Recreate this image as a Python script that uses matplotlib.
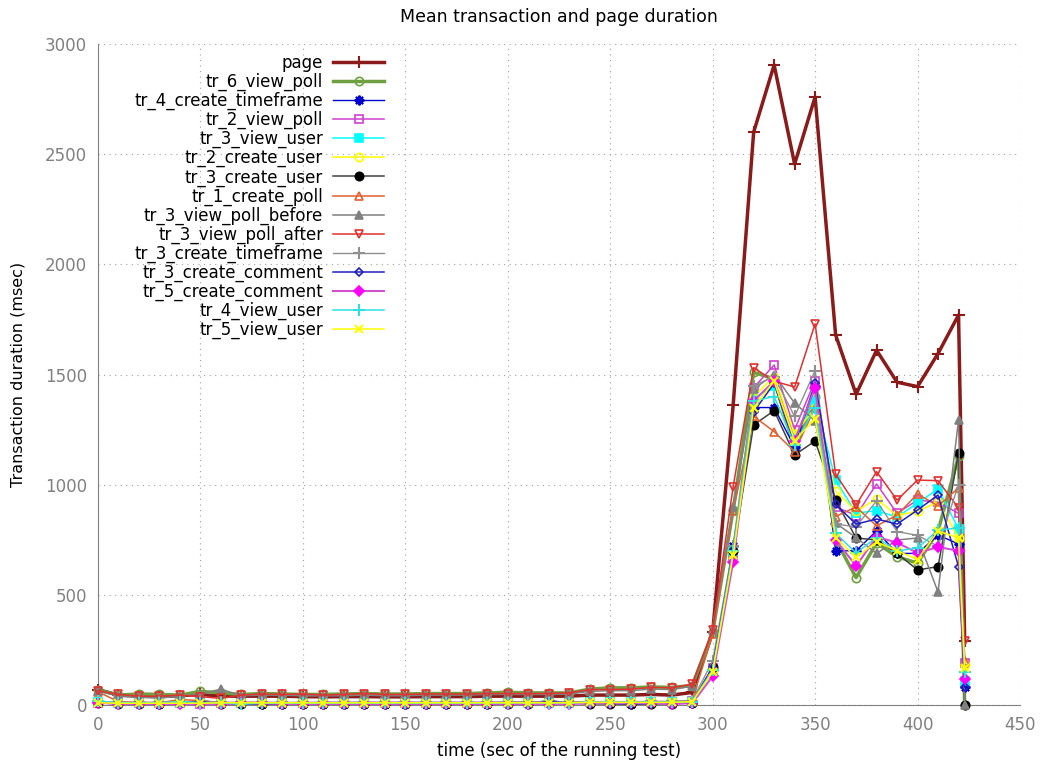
import numpy as np
import matplotlib
matplotlib.use('Agg')
import matplotlib.pyplot as plt

# tiempos de muestreo (seg)
tiempos = list(range(0, 430, 10)) + [423]

# valores 0..290 (zona baja) + 300..420, 423 (zona de carga)
page = [70, 45, 40, 38, 42, 48, 40, 40, 40, 40, 38, 37, 38, 38, 37, 37, 38, 38, 38, 40,
        40, 40, 40, 40, 45, 45, 45, 48, 45, 57,
        330, 1360, 2600, 2905, 2455, 2760, 1680, 1410, 1610, 1465, 1445, 1595, 1770, 290]
tr_6_view_poll = [68, 45, 50, 48, 45, 62, 55, 48, 52, 50, 48, 48, 50, 52, 50, 50, 52, 52, 52, 55,
                  58, 55, 55, 55, 72, 78, 78, 82, 80, 88,
                  330, 885, 1510, 1480, 1160, 1400, 750, 578, 735, 673, 644, 790, 1130, 0]
tr_4_create_timeframe = [12, 10, 8, 5, 10, 20, 8, 8, 5, 5, 5, 5, 5, 5, 5, 5, 5, 5, 5, 5,
                         8, 8, 20, 10, 8, 8, 5, 8, 8, 10,
                         160, 720, 1350, 1350, 1170, 1450, 700, 700, 790, 688, 688, 771, 731, 80]
tr_2_view_poll = [10, 12, 8, 8, 8, 5, 8, 10, 10, 10, 10, 12, 12, 12, 12, 12, 12, 12, 12, 12,
                  12, 12, 12, 12, 14, 14, 14, 15, 15, 18,
                  170, 680, 1440, 1543, 1250, 1472, 900, 860, 1003, 870, 930, 920, 870, 190]
tr_3_view_user = [15, 8, 8, 8, 8, 20, 10, 10, 8, 8, 8, 8, 8, 8, 8, 8, 8, 8, 8, 8,
                  10, 10, 10, 10, 12, 12, 12, 12, 12, 15,
                  150, 700, 1390, 1450, 1220, 1380, 1021, 871, 882, 853, 917, 980, 800, 110]
tr_2_create_user = [12, 10, 10, 10, 8, 8, 10, 10, 10, 10, 10, 10, 10, 10, 10, 10, 10, 10, 10, 10,
                    10, 12, 12, 12, 14, 14, 14, 15, 15, 18,
                    160, 700, 1400, 1490, 1230, 1350, 970, 880, 935, 860, 880, 920, 760, 180]
tr_3_create_user = [10, 5, 5, 3, 8, 8, 5, 5, 5, 5, 5, 5, 5, 3, 5, 5, 5, 5, 5, 5,
                    5, 5, 8, 8, 5, 5, 3, 5, 5, 10,
                    172, 700, 1271, 1336, 1135, 1198, 930, 758, 749, 688, 613, 628, 1143, 0]
tr_1_create_poll = [60, 15, 12, 10, 25, 20, 10, 12, 12, 10, 10, 8, 10, 10, 10, 10, 10, 10, 10, 10,
                    12, 12, 12, 12, 15, 15, 15, 15, 15, 20,
                    320, 880, 1310, 1241, 1150, 1350, 855, 899, 813, 862, 958, 903, 985, 200]
tr_3_view_poll_before = [65, 40, 35, 32, 40, 50, 72, 42, 45, 45, 42, 42, 42, 45, 42, 42, 45, 45, 45, 48,
                         48, 48, 48, 50, 62, 65, 65, 72, 70, 85,
                         340, 900, 1434, 1500, 1370, 1290, 825, 760, 688, 749, 758, 513, 1294, 0]
tr_3_view_poll_after = [65, 48, 40, 40, 45, 38, 30, 45, 50, 48, 50, 45, 48, 52, 48, 48, 50, 50, 50, 52,
                        52, 52, 52, 55, 70, 70, 72, 80, 78, 95,
                        340, 991, 1531, 1470, 1443, 1730, 1048, 908, 1059, 930, 1021, 1018, 894, 290]
tr_3_create_timeframe = [15, 12, 12, 12, 12, 15, 12, 12, 12, 12, 12, 12, 12, 12, 12, 12, 12, 12, 12, 12,
                         14, 14, 14, 14, 15, 15, 15, 16, 16, 20,
                         200, 720, 1450, 1490, 1310, 1518, 820, 810, 926, 787, 770, 720, 1000, 150]
tr_3_create_comment = [12, 8, 8, 3, 8, 15, 5, 5, 5, 5, 5, 5, 5, 5, 5, 5, 5, 5, 5, 5,
                       5, 5, 15, 8, 8, 8, 5, 8, 8, 10,
                       170, 700, 1330, 1460, 1180, 1460, 910, 821, 844, 821, 885, 953, 628, 80]
tr_5_create_comment = [10, 5, 5, 5, 3, 5, 3, 8, 8, 5, 5, 5, 5, 5, 5, 5, 5, 5, 5, 5,
                       5, 5, 5, 5, 8, 8, 8, 8, 5, 8,
                       130, 650, 1380, 1470, 1200, 1440, 750, 631, 763, 737, 690, 717, 700, 120]
tr_4_view_user = [18, 10, 10, 10, 15, 10, 10, 5, 8, 8, 8, 8, 8, 8, 8, 8, 8, 8, 8, 8,
                  10, 10, 10, 10, 12, 12, 12, 12, 12, 15,
                  160, 700, 1380, 1400, 1180, 1350, 780, 690, 760, 700, 712, 794, 803, 150]
tr_5_view_user = [10, 8, 8, 8, 8, 8, 10, 10, 10, 10, 10, 10, 10, 10, 10, 10, 10, 10, 10, 10,
                  10, 10, 10, 10, 12, 12, 12, 12, 12, 15,
                  150, 680, 1350, 1470, 1200, 1300, 760, 670, 740, 700, 660, 790, 758, 170]

# (nombre, datos, color, marcador, relleno, grosor, tam. marcador)
series = [
    ('page', page, '#8b1a1a', '+', True, 2.5, 8),
    ('tr_6_view_poll', tr_6_view_poll, '#6fa040', 'o', False, 2.5, 6),
    ('tr_4_create_timeframe', tr_4_create_timeframe, '#0000cc', (8, 2, 0), True, 1.0, 7),
    ('tr_2_view_poll', tr_2_view_poll, '#d040d0', 's', False, 1.1, 6),
    ('tr_3_view_user', tr_3_view_user, '#00ffff', 's', True, 1.1, 6),
    ('tr_2_create_user', tr_2_create_user, '#ffff00', 'o', False, 1.1, 6),
    ('tr_3_create_user', tr_3_create_user, '#404040', 'o', True, 1.1, 6),
    ('tr_1_create_poll', tr_1_create_poll, '#e06030', '^', False, 1.1, 6),
    ('tr_3_view_poll_before', tr_3_view_poll_before, '#808080', '^', True, 1.1, 6),
    ('tr_3_view_poll_after', tr_3_view_poll_after, '#e03030', 'v', False, 1.1, 6),
    ('tr_3_create_timeframe', tr_3_create_timeframe, '#909090', '+', True, 1.0, 8),
    ('tr_3_create_comment', tr_3_create_comment, '#2020c0', 'D', False, 1.1, 4),
    ('tr_5_create_comment', tr_5_create_comment, '#d050d0', 'D', True, 1.5, 5),
    ('tr_4_view_user', tr_4_view_user, '#30e0e0', '+', True, 1.1, 8),
    ('tr_5_view_user', tr_5_view_user, '#ffff00', 'x', True, 1.1, 6),
]
marker_colors = {'tr_3_create_user': 'black', 'tr_5_create_comment': '#ff00ff'}

fig = plt.figure(figsize=(10.43, 7.67), dpi=100)
ax = fig.add_axes([98 / 1043, 62 / 767, 922 / 1043, 661 / 767])

for i, (nombre, datos, color, mk, relleno, lw, ms) in enumerate(series):
    mc = marker_colors.get(nombre, color)
    ax.plot(tiempos, datos, color=color, lw=lw, marker=mk, ms=ms,
            markerfacecolor=mc if relleno else 'none', markeredgecolor=mc,
            markeredgewidth=1.5 if mk in ('+', 'x') or isinstance(mk, tuple) else 1.2,
            label=nombre, clip_on=False, zorder=3 + i)

ax.set_xlim(0, 450)
ax.set_ylim(0, 3000)
ax.set_xticks(np.arange(0, 451, 50))
ax.set_yticks(np.arange(0, 3001, 500))
ax.grid(True, linestyle=(0, (1, 4)), color='#a0a0a0', lw=0.8)
for s in ['top', 'right']:
    ax.spines[s].set_visible(False)
for s in ['left', 'bottom']:
    ax.spines[s].set_color('#808080')
ax.tick_params(length=0, labelsize=12, labelcolor='#808080', pad=8)

ax.set_title('Mean transaction and page duration', fontsize=12.5, pad=16)
ax.set_xlabel('time (sec of the running test)', fontsize=12, labelpad=6)
ax.set_ylabel('Transaction duration (msec)', fontsize=11.5, labelpad=14)

ax.legend(loc='upper right', bbox_to_anchor=(384 / 1043, 1 - 54 / 767),
          bbox_transform=fig.transFigure, frameon=False, markerfirst=False,
          fontsize=12, handlelength=3.05, handletextpad=0.6, labelspacing=0.05,
          borderpad=0, borderaxespad=0)

plt.savefig('out.png', dpi=100)
